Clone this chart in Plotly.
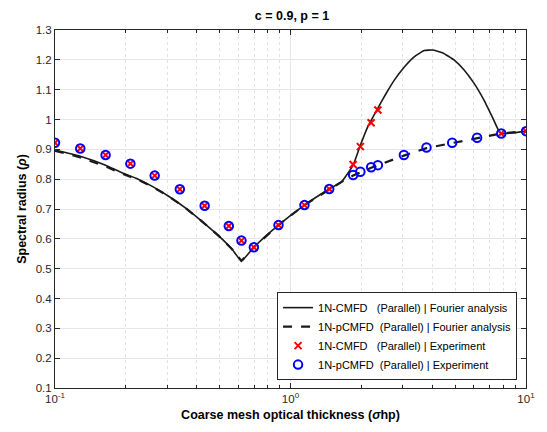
import plotly.graph_objects as go

# Fourier analysis curves
x_four_cmfd = [0.1, 0.127, 0.164, 0.188, 0.221, 0.260, 0.306, 0.360, 0.423, 0.497, 0.565, 0.619,
               0.699, 0.889, 1.146, 1.46, 1.647, 1.845, 1.97, 2.13, 2.35, 2.55, 2.76, 3.05,
               3.36, 3.70, 4.01, 4.42, 4.96, 5.46, 6.02, 6.63, 7.19, 7.80, 10.0]
y_four_cmfd = [0.898, 0.878, 0.847, 0.825, 0.803, 0.775, 0.741, 0.702, 0.657, 0.609, 0.565, 0.526,
               0.572, 0.646, 0.713, 0.767, 0.791, 0.847, 0.909, 0.976, 1.038, 1.088, 1.132, 1.177,
               1.211, 1.231, 1.233, 1.224, 1.199, 1.166, 1.121, 1.065, 1.009, 0.954, 0.961]

x_four_pcmfd = [0.1, 0.127, 0.164, 0.188, 0.221, 0.260, 0.306, 0.360, 0.423, 0.497, 0.565, 0.619,
                0.699, 0.889, 1.146, 1.46, 1.647, 1.845, 2.2, 3.03, 3.78, 4.86, 6.2, 7.85, 10.0]
y_four_pcmfd = [0.895, 0.874, 0.843, 0.822, 0.801, 0.774, 0.741, 0.702, 0.657, 0.609, 0.565, 0.526,
                0.572, 0.646, 0.713, 0.767, 0.791, 0.812, 0.838, 0.879, 0.904, 0.921, 0.938, 0.953, 0.961]

# Experiments
x_exp = [0.1, 0.128, 0.164, 0.209, 0.265, 0.339, 0.432, 0.547, 0.619, 0.699, 0.889, 1.146,
         1.46, 1.845, 1.98, 2.2, 2.35, 3.03, 3.78, 4.86, 6.2, 7.85, 10.0]
y_exp_cmfd = [0.922, 0.903, 0.881, 0.852, 0.812, 0.766, 0.711, 0.643, 0.594, 0.572, 0.646, 0.713,
              0.767, 0.849, 0.909, 0.989, 1.032, None, None, None, None, 0.953, 0.961]
y_exp_pcmfd = [0.922, 0.903, 0.881, 0.852, 0.812, 0.766, 0.711, 0.643, 0.594, 0.572, 0.646, 0.713,
               0.767, 0.814, 0.825, 0.840, 0.847, 0.881, 0.906, 0.922, 0.939, 0.953, 0.961]

y_ticks = [0.1, 0.2, 0.3, 0.4, 0.5, 0.6, 0.7, 0.8, 0.9, 1.0, 1.1, 1.2, 1.3]
y_tick_text = ["0.1", "0.2", "0.3", "0.4", "0.5", "0.6", "0.7", "0.8", "0.9", "1", "1.1", "1.2", "1.3"]
x_ticks = [0.1, 1, 10]
x_tick_text = ["10<sup>-1</sup>", "10<sup>0</sup>", "10<sup>1</sup>"]
x_minor = [0.2, 0.3, 0.4, 0.5, 0.6, 0.7, 0.8, 0.9, 2, 3, 4, 5, 6, 7, 8, 9]

NB = "\u00a0"
FONT = "Liberation Sans, Arial, Helvetica, sans-serif"
AX = "#262626"
GRID = "#e6e6e6"

fig = go.Figure()
fig.add_trace(go.Scatter(x=x_four_cmfd, y=y_four_cmfd, mode="lines",
                         line=dict(color="#1a1a1a", width=1.6, shape="spline", smoothing=0.4),
                         name="1N-CMFD" + NB * 3 + "(Parallel) | Fourier analysis"))
fig.add_trace(go.Scatter(x=x_four_pcmfd, y=y_four_pcmfd, mode="lines",
                         line=dict(color="#1a1a1a", width=2.2, dash="dash"),
                         name="1N-pCMFD" + NB * 2 + "(Parallel) | Fourier analysis"))
fig.add_trace(go.Scatter(x=x_exp, y=y_exp_cmfd, mode="markers",
                         marker=dict(symbol="x-thin-open", size=7, color="red",
                                     line=dict(color="red", width=2)),
                         name="1N-CMFD" + NB * 3 + "(Parallel) | Experiment"))
fig.add_trace(go.Scatter(x=x_exp, y=y_exp_pcmfd, mode="markers",
                         marker=dict(symbol="circle-open", size=8.5, color="blue",
                                     line=dict(color="blue", width=2)),
                         name="1N-pCMFD" + NB * 2 + "(Parallel) | Experiment"))

fig.update_layout(
    width=547, height=432,
    margin=dict(l=55, r=18, t=30, b=44),
    paper_bgcolor="white", plot_bgcolor="white",
    font=dict(family=FONT, size=11.5, color=AX),
    title=dict(text="<b>c = 0.9, p = 1</b>", x=(55 + 237) / 547, xanchor="center",
               y=1 - 16 / 432, yanchor="middle", font=dict(size=12.5, color="#000")),
    showlegend=True,
    legend=dict(x=0.981, y=0.022, xanchor="right", yanchor="bottom",
                bgcolor="white", bordercolor="#262626", borderwidth=1,
                font=dict(size=11, color="#000"), itemwidth=30,
                tracegroupgap=0),
)
fig.update_xaxes(type="log", range=[-1, 1], tickvals=x_ticks, ticktext=x_tick_text,
                 showgrid=True, gridcolor=GRID, gridwidth=1,
                 ticks="inside", ticklen=5, tickcolor=AX,
                 showline=True, linecolor=AX, linewidth=1, mirror="ticks",
                 minor=dict(tickvals=x_minor, ticks="inside", ticklen=3, tickcolor=AX,
                            showgrid=True, gridcolor="#e3e3e3", griddash="dot"),
                 zeroline=False,
                 title=dict(text="<b>Coarse mesh optical thickness (<i>σ</i>hp)</b>",
                            font=dict(size=12.5, color="#000"), standoff=6))
fig.update_yaxes(range=[0.1, 1.3], tickvals=y_ticks, ticktext=y_tick_text,
                 showgrid=True, gridcolor=GRID, gridwidth=1,
                 ticks="inside", ticklen=5, tickcolor=AX,
                 showline=True, linecolor=AX, linewidth=1, mirror="ticks",
                 zeroline=False,
                 title=dict(text="<b>Spectral radius (<i>ρ</i>)</b>",
                            font=dict(size=12.5, color="#000"), standoff=6))

fig.write_html("out.html")
